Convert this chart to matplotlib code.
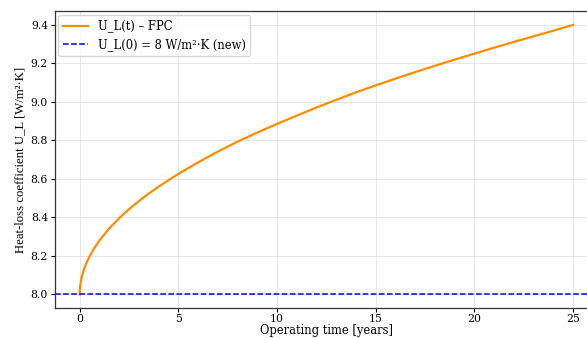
import matplotlib
matplotlib.use("Agg")
import matplotlib.pyplot as plt

# operating time [years] and heat-loss coefficient
years = [0, 0.01, 0.05, 0.1, 0.2, 0.35, 0.5, 0.75, 1, 1.5, 2, 2.5, 3, 3.5,
         4, 5, 6, 7, 8, 9, 10, 11, 12, 13, 14, 15, 16, 17, 18, 19, 20, 21,
         22, 23, 24, 25]
u_l = [8.000, 8.028, 8.063, 8.089, 8.125, 8.166, 8.198, 8.242, 8.280,
       8.343, 8.396, 8.443, 8.485, 8.524, 8.560, 8.626, 8.686, 8.742,
       8.794, 8.841, 8.886, 8.929, 8.971, 9.011, 9.050, 9.086, 9.121,
       9.155, 9.188, 9.220, 9.251, 9.282, 9.312, 9.341, 9.370, 9.400]
u_l0 = 8.0

xticks = [0, 5, 10, 15, 20, 25]
yticks = [8.0, 8.2, 8.4, 8.6, 8.8, 9.0, 9.2, 9.4]

plt.rcParams["font.family"] = "DejaVu Serif"
tick_fs = 7.8
lab_fs = 8.3

fig = plt.figure(figsize=(5.87, 3.38), dpi=100)
# axes run past the right edge, the reference is cut there
ax = fig.add_axes([0.0937, 0.089, 0.9245, 0.877])

ax.plot(years, u_l, color="darkorange", lw=1.6, label="U_L(t) – FPC")
ax.axhline(u_l0, color="blue", ls="--", lw=1.1,
           label="U_L(0) = 8 W/m²·K (new)")

ax.set_xlim(-1.25, 26.25)
ax.set_ylim(7.93, 9.47)
ax.set_xticks(xticks)
ax.set_yticks(yticks)
ax.set_xticklabels([str(t) for t in xticks], fontsize=tick_fs)
ax.set_yticklabels([f"{v:.1f}" for v in yticks], fontsize=tick_fs)
ax.tick_params(length=3, width=0.8, pad=2)
ax.tick_params(axis="x", pad=1.5)
ax.grid(True, color="#e2e2e2", lw=0.6)

ax.set_xlabel("Operating time [years]", fontsize=lab_fs, labelpad=0)
ax.set_ylabel("Heat-loss coefficient U_L [W/m²·K]", fontsize=9.2,
              labelpad=3, family="Liberation Serif")

for s in ax.spines.values():
    s.set_linewidth(0.9)
    s.set_color("#333333")

ax.legend(loc="upper left", fontsize=lab_fs, frameon=True, framealpha=0.8,
          edgecolor="#cccccc", handlelength=2.2, borderaxespad=0.3)

fig.savefig("out.png", dpi=100)
